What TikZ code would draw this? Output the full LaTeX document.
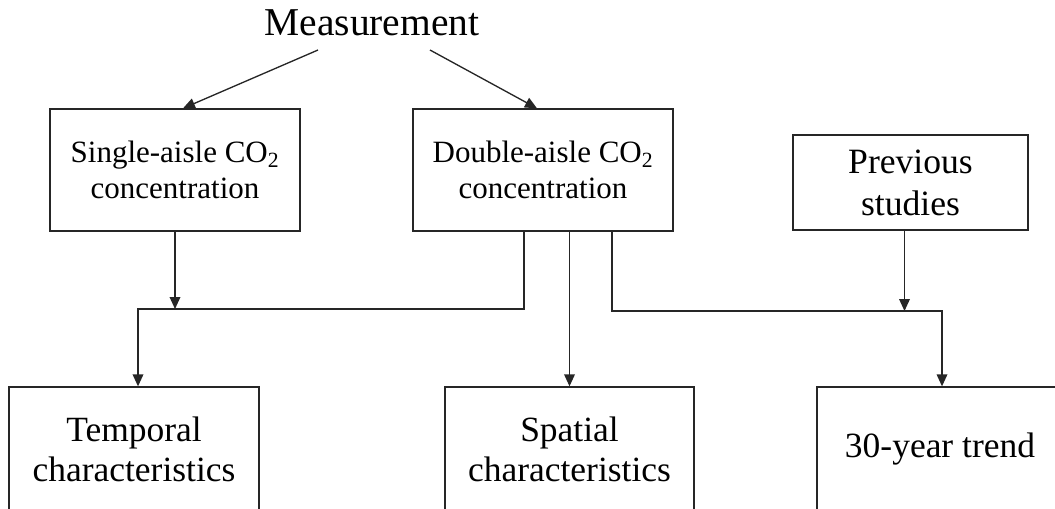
\documentclass[tikz,border=0pt]{standalone}
\usepackage{fontspec}
\setmainfont{Liberation Serif}
\usetikzlibrary{arrows.meta,calc}
\tikzset{
    % Box of the flow chart
    box/.style={draw=black!85,line width=1pt,align=center,inner sep=0pt},
    % Upper boxes (measured data)
    databox/.style={box,font=\fontsize{23.25}{27}\selectfont,minimum height=91.5pt},
    % Lower boxes (results)
    resultbox/.style={box,font=\fontsize{26.6}{30}\selectfont,minimum height=93.75pt},
    % Top label
    rootlabel/.style={font=\fontsize{29.6}{34}\selectfont,inner sep=0pt},
    % Connector with arrow head
    flowarrow/.style={-{Triangle[length=9pt,width=8pt]},line width=1pt,black!85}
}
\begin{document}
\begin{tikzpicture}[x=0.75pt,y=-0.75pt]
    \useasboundingbox (0,0) rectangle (1055,508);
    \clip (0,0) rectangle (1055,508);

    % Source of the data
    \node[rootlabel,anchor=base] (meas) at (372,35) {Measurement};

    % Upper row
    \node[databox,minimum width=187.5pt] (single) at (175,170) {Single-aisle CO\textsubscript{2}\\concentration};
    \node[databox,minimum width=195pt] (double) at (543,170) {Double-aisle CO\textsubscript{2}\\concentration};
    \node[box,font=\fontsize{26.7}{31.5}\selectfont,minimum width=176.25pt,minimum height=71.25pt] (prev) at (910.5,182.5) {Previous\\studies};

    % Lower row
    \node[resultbox,minimum width=187.5pt] (temporal) at (134,449.5) {Temporal\\characteristics};
    \node[resultbox,minimum width=186.75pt] (spatial) at (569.5,449.5) {Spatial\\characteristics};
    \node[resultbox,minimum width=184.5pt] (trend) at (940,449.5) {30-year trend};

    % Bus corners and feet of the lines
    \coordinate (midL) at (138,309);
    \coordinate (midR) at (942,311);
    \coordinate (prevfoot) at ($(prev.south)+(-6,0)$);

    % Measurement to upper row
    \draw[flowarrow] ($(meas.base)+(-54,15)$) -- ($(single.north)+(8,0)$);
    \draw[flowarrow] ($(meas.base)+(58,15)$) -- ($(double.north)+(-6,0)$);

    % Upper row to lower row
    \draw[flowarrow] (single.south) -- (single.south |- midL);
    \draw[flowarrow] ($(double.south)+(-19,0)$) |- (midL) -- (midL |- temporal.north);
    \draw[flowarrow] (spatial.north |- double.south) -- (spatial.north);
    \draw[flowarrow] ($(double.south)+(69,0)$) |- (midR) -- (midR |- trend.north);
    \draw[flowarrow] (prevfoot) -- (prevfoot |- midR);
\end{tikzpicture}
\end{document}
